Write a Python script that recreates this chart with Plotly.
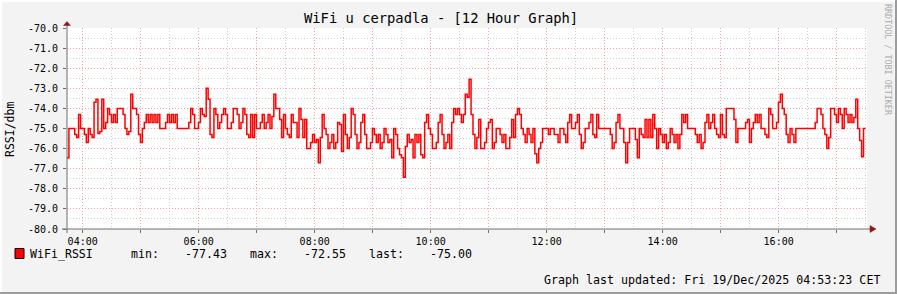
import numpy as np
import pandas as pd
import plotly.graph_objects as go

# ---------------- data ----------------
START = "2025-12-18 03:43:48"
END = "2025-12-18 17:31:24"
STEP_MIN = 2  # RRD step (minutes)

# run-length encoded consolidated RSSI (dBm): level and number of steps it was held
rssi_levels = [
    # block 1 (~03:44 - 05:20)
    -76.45, -75.0, -75.3, -75.45, -74.3, -75.0, -75.3, -75.7, -75.0, -75.3,
    -75.45, -73.7, -73.55, -75.25, -75.15, -73.55, -75.0, -74.7, -74.0, -74.3,
    -74.7, -74.3, -74.7, -74.0, -74.3, -75.0, -75.3, -75.15, -73.3, -74.0,
    -74.3, -75.3, -75.7, -75.0, -74.7, -74.3, -74.7, -74.3, -74.7, -74.3,
    -74.7,
    # block 2
    -74.3, -75.0, -74.7, -74.3, -74.7, -74.3, -74.7, -74.3, -75.0, -74.7,
    -74.0, -74.3, -75.0, -74.7, -74.0, -74.3, -74.4, -73.0, -73.55, -75.3,
    -75.45, -74.0, -74.3, -75.0, -74.7, -74.3, -74.0, -74.3, -75.0, -74.7,
    -74.0, -74.3, -75.0, -74.7, -74.0, -74.3, -75.3, -75.45, -74.3, -75.45,
    -74.3, -75.0,
    # block 3
    -75.0, -74.7, -74.3, -75.0, -74.7, -74.3, -75.0, -74.4, -73.3, -74.0,
    -74.55, -75.45, -74.3, -75.0, -75.3, -75.45, -74.3, -74.7, -75.45, -74.0,
    -74.55, -75.45, -74.55, -76.0, -75.7, -75.3, -75.7, -75.55, -76.7, -75.45,
    -74.3, -75.0, -75.3, -76.0, -75.7, -75.3, -76.0, -75.7, -74.7, -74.8,
    -76.15, -74.3, -75.3, -76.0, -75.45, -74.0, -74.3, -75.3, -76.0,
    # block 4
    -75.7, -74.7, -74.3, -75.3, -76.0, -75.7, -75.0, -75.3, -75.7, -75.3,
    -76.0, -75.7, -75.0, -75.3, -75.7, -75.55, -76.45, -75.0, -75.3, -76.0,
    -76.3, -76.45, -77.43, -75.9, -75.3, -75.7, -75.55, -76.45, -75.3, -75.7,
    -75.3, -76.3, -76.45, -74.7, -74.3, -75.0, -75.3, -76.0, -75.7, -74.7,
    -74.3, -75.3, -76.0, -75.7, -75.3, -76.0, -74.7, -74.0, -74.3,
    # block 5
    -74.0, -74.3, -74.7, -74.3, -73.3, -73.45, -72.55, -74.3, -75.3, -76.0,
    -75.45, -74.55, -76.0, -75.7, -75.0, -74.7, -74.55, -76.0, -75.7, -75.0,
    -75.3, -75.7, -75.3, -76.0, -75.45, -74.55, -75.45, -74.3, -74.0, -74.3,
    -75.0, -75.3, -75.7, -75.0, -75.3, -75.7, -75.0, -76.25, -76.7, -76.0,
    -75.7, -75.0, -75.3, -75.0, -75.3,
    # block 6
    -75.3, -75.7, -75.0, -75.3, -75.7, -74.7, -74.3, -75.0, -74.7, -74.3,
    -75.3, -76.0, -75.7, -75.0, -74.7, -74.3, -75.3, -75.45, -74.3, -75.0,
    -75.3, -76.0, -75.7, -74.7, -74.3, -75.0, -75.7, -76.7, -75.7, -75.0,
    -75.55, -76.45, -75.0, -75.3, -75.45, -74.55, -75.45, -74.55, -75.45, -74.3,
    -75.0, -76.0,
    # block 7
    -75.0, -75.3, -75.7, -75.3, -76.0, -75.7, -75.0, -75.3, -75.7, -75.3,
    -76.0, -75.3, -74.3, -74.7, -74.3, -75.0, -75.3, -75.7, -75.3, -76.0,
    -75.7, -74.7, -74.3, -75.0, -74.7, -74.3, -75.0, -75.3, -75.45, -74.3,
    -75.3, -75.45, -74.0, -74.55, -75.7, -75.0, -74.7, -74.55, -75.7, -75.0,
    -74.7, -74.3, -74.7,
    # block 8 (~15:45 - 17:30)
    -74.3, -75.0, -75.3, -75.45, -74.0, -74.3, -75.0, -74.7, -73.7, -73.3,
    -74.0, -74.3, -75.3, -75.7, -75.0, -75.3, -75.7, -75.0, -74.7, -74.0,
    -74.3, -75.0, -75.3, -76.0, -75.45, -74.0, -74.3, -74.7, -74.0, -74.3,
    -75.0, -74.0, -74.3, -74.7, -74.3, -74.7, -74.45, -73.55, -75.0, -75.6,
    -76.4, -75.0,
]
rssi_steps = [
    # block 1
    1, 3, 1, 1, 1, 2, 1, 1, 1, 1,
    1, 1, 1, 1, 1, 1, 1, 1, 1, 1,
    1, 1, 1, 3, 1, 1, 1, 1, 1, 2,
    1, 1, 1, 1, 1, 1, 1, 1, 1, 1,
    1,
    # block 2
    1, 3, 1, 1, 1, 1, 1, 1, 6, 1,
    1, 1, 2, 1, 1, 1, 1, 1, 1, 1,
    1, 1, 1, 1, 1, 1, 1, 1, 2, 1,
    2, 1, 1, 1, 1, 1, 1, 1, 1, 1,
    1, 1,
    # block 3
    1, 1, 1, 1, 1, 1, 1, 1, 1, 2,
    1, 1, 1, 1, 1, 1, 1, 2, 1, 1,
    1, 1, 1, 2, 1, 1, 1, 1, 1, 1,
    1, 1, 1, 1, 1, 1, 1, 1, 1, 1,
    1, 1, 1, 1, 1, 1, 1, 1, 1,
    # block 4
    1, 1, 1, 1, 2, 1, 1, 1, 1, 1,
    1, 1, 1, 1, 1, 1, 1, 1, 1, 1,
    1, 1, 1, 1, 1, 1, 1, 1, 1, 1,
    1, 1, 1, 1, 1, 1, 1, 2, 1, 1,
    1, 1, 1, 1, 1, 1, 1, 1, 1,
    # block 5
    1, 1, 1, 1, 1, 1, 1, 1, 1, 1,
    1, 1, 2, 1, 1, 1, 1, 1, 1, 2,
    1, 1, 1, 2, 1, 1, 1, 1, 1, 1,
    1, 1, 1, 1, 1, 1, 1, 1, 1, 1,
    1, 3, 1, 2, 1,
    # block 6
    1, 1, 2, 1, 1, 1, 1, 2, 1, 1,
    1, 1, 1, 2, 1, 1, 1, 1, 1, 6,
    1, 1, 1, 1, 1, 2, 1, 1, 1, 3,
    1, 1, 1, 1, 1, 1, 1, 1, 1, 1,
    1, 1,
    # block 7
    1, 1, 1, 1, 1, 1, 1, 1, 1, 1,
    1, 1, 1, 1, 1, 4, 1, 1, 1, 1,
    1, 1, 1, 1, 1, 1, 1, 1, 1, 1,
    1, 1, 4, 1, 1, 4, 1, 1, 1, 1,
    1, 1, 1,
    # block 8
    1, 2, 1, 1, 1, 1, 2, 1, 1, 1,
    1, 1, 1, 1, 1, 1, 1, 10, 1, 2,
    1, 1, 1, 1, 1, 2, 1, 1, 1, 1,
    1, 1, 1, 1, 1, 1, 1, 1, 1, 1,
    1, 1,
]

x_tick_vals = ["2025-12-18 %02d:00" % h for h in range(4, 18)]
x_tick_text = ["04:00", "", "06:00", "", "08:00", "", "10:00", "", "12:00", "", "14:00", "", "16:00", ""]
y_tick_vals = [-80, -79, -78, -77, -76, -75, -74, -73, -72, -71, -70]
y_tick_text = ["-80.0", "-79.0", "-78.0", "-77.0", "-76.0", "-75.0", "-74.0", "-73.0", "-72.0", "-71.0", "-70.0"]

TITLE = "WiFi u cerpadla - [12 Hour Graph]"
Y_TITLE = "RSSI/dbm"
SERIES = "WiFi_RSSI"
FOOTER = "Graph last updated: Fri 19/Dec/2025 04:53:23 CET"
WATERMARK = "RRDTOOL / TOBI OETIKER"

# ---------------- build ----------------
vals = np.repeat(np.array(rssi_levels, dtype=float), np.array(rssi_steps))
n = len(vals)
times = pd.Timestamp(START) + pd.to_timedelta(np.arange(n + 1) * STEP_MIN, unit="min")
yv = np.append(vals, vals[-1])

v_min, v_max, v_last = vals.min(), vals.max(), vals[-1]

W, H = 897, 294
ML, MR, MT, MB = 67, 30, 28, 65
PW, PH = W - ML - MR, H - MT - MB


def px(x):
    return (x - ML) / PW


def py(y):
    return (MT + PH - y) / PH


MONO = "DejaVu Sans Mono, monospace"
PINK = "#F3A3A3"
GREY = "#CFCFCF"
AXIS = "#6E6E6E"
ARROW = "#8A1A1A"

fig = go.Figure()
fig.add_trace(go.Scatter(
    x=times, y=yv, mode="lines",
    line=dict(color="#FF0000", width=1.5, shape="hv"),
    hoverinfo="skip", showlegend=False,
))

fig.update_layout(
    width=W, height=H,
    margin=dict(l=ML, r=MR, t=MT, b=MB, pad=0),
    paper_bgcolor="#F3F3F3", plot_bgcolor="#FFFFFF",
    showlegend=False,
    font=dict(family=MONO, color="#000000", size=10),
    xaxis=dict(
        type="date", range=[START, END],
        tickmode="array", tickvals=x_tick_vals, ticktext=x_tick_text,
        showgrid=True, gridcolor=PINK, griddash="1px,2px", gridwidth=1,
        minor=dict(dtick=30 * 60 * 1000, tick0="2025-12-18 00:00", showgrid=True,
                   gridcolor=GREY, griddash="1px,2px", gridwidth=1, ticks=""),
        showline=False, zeroline=False,
        ticks="outside", ticklen=3, tickcolor=AXIS, tickwidth=1,
        tickfont=dict(family=MONO, size=10, color="#000000"),
        fixedrange=True,
    ),
    yaxis=dict(
        range=[-80, -70],
        tickmode="array", tickvals=y_tick_vals, ticktext=y_tick_text,
        showgrid=True, gridcolor=PINK, griddash="1px,2px", gridwidth=1,
        minor=dict(dtick=0.5, tick0=-80, showgrid=True,
                   gridcolor=GREY, griddash="1px,2px", gridwidth=1, ticks=""),
        showline=False, zeroline=False,
        ticks="outside", ticklen=3, tickcolor=AXIS, tickwidth=1,
        tickfont=dict(family=MONO, size=10, color="#000000"),
        ticklabelstandoff=3,
        fixedrange=True,
    ),
)

shapes = []
# frame shading
shapes.append(dict(type="line", xref="paper", yref="paper", x0=px(0), x1=px(W), y0=py(1), y1=py(1),
                   line=dict(color="#FFFFFF", width=2), layer="above"))
shapes.append(dict(type="line", xref="paper", yref="paper", x0=px(1), x1=px(1), y0=py(0), y1=py(H),
                   line=dict(color="#FFFFFF", width=2), layer="above"))
shapes.append(dict(type="line", xref="paper", yref="paper", x0=px(0), x1=px(W), y0=py(H - 1), y1=py(H - 1),
                   line=dict(color="#9C9C9C", width=2), layer="above"))
shapes.append(dict(type="line", xref="paper", yref="paper", x0=px(W - 1), x1=px(W - 1), y0=py(0), y1=py(H),
                   line=dict(color="#9C9C9C", width=2), layer="above"))
# axes
shapes.append(dict(type="line", xref="paper", yref="paper", x0=px(ML - 5), x1=px(ML + PW + 5),
                   y0=0, y1=0, line=dict(color=AXIS, width=1), layer="above"))
shapes.append(dict(type="line", xref="paper", yref="paper", x0=0, x1=0,
                   y0=py(MT + PH + 4), y1=py(MT - 5), line=dict(color=AXIS, width=1), layer="above"))
# arrowheads
shapes.append(dict(type="path", xref="paper", yref="paper", xsizemode="pixel", ysizemode="pixel",
                   xanchor=1, yanchor=0, path="M 3,-3.5 L 3,3.5 L 9,0 Z",
                   fillcolor=ARROW, line=dict(color=ARROW, width=0.5), layer="above"))
shapes.append(dict(type="path", xref="paper", yref="paper", xsizemode="pixel", ysizemode="pixel",
                   xanchor=0, yanchor=1, path="M -3.5,2.5 L 3.5,2.5 L 0,6.5 Z",
                   fillcolor=ARROW, line=dict(color=ARROW, width=0.5), layer="above"))
# legend swatch
shapes.append(dict(type="rect", xref="paper", yref="paper", x0=px(15), x1=px(24), y0=py(258.5), y1=py(248.5),
                   fillcolor="#FF0000", line=dict(color="#000000", width=1)))
fig.update_layout(shapes=shapes)

ann = []


def text(x, y, s, size, xanchor="left", color="#000000", angle=0):
    ann.append(dict(xref="paper", yref="paper", x=px(x), y=py(y), text=s, showarrow=False,
                    xanchor=xanchor, yanchor="middle", textangle=angle,
                    font=dict(family=MONO, size=size, color=color)))


text(440.5, 18, TITLE, 13.8, "center")
text(10, 130, Y_TITLE, 11.5, "center", angle=-90)
LY = 254
text(28, LY, SERIES, 11.6)
text(129, LY, "min:", 11.6)
text(229, LY, f"{v_min:.2f}", 11.6, "right")
text(248, LY, "max:", 11.6)
text(348, LY, f"{v_max:.2f}", 11.6, "right")
text(367, LY, "last:", 11.6)
text(474, LY, f"{v_last:.2f}", 11.6, "right")
text(882, 280, FOOTER, 11.65, "right")
text(888, 60, WATERMARK, 8.4, "center", color="#ABABAB", angle=90)
fig.update_layout(annotations=ann)

fig.write_html("out.html")
